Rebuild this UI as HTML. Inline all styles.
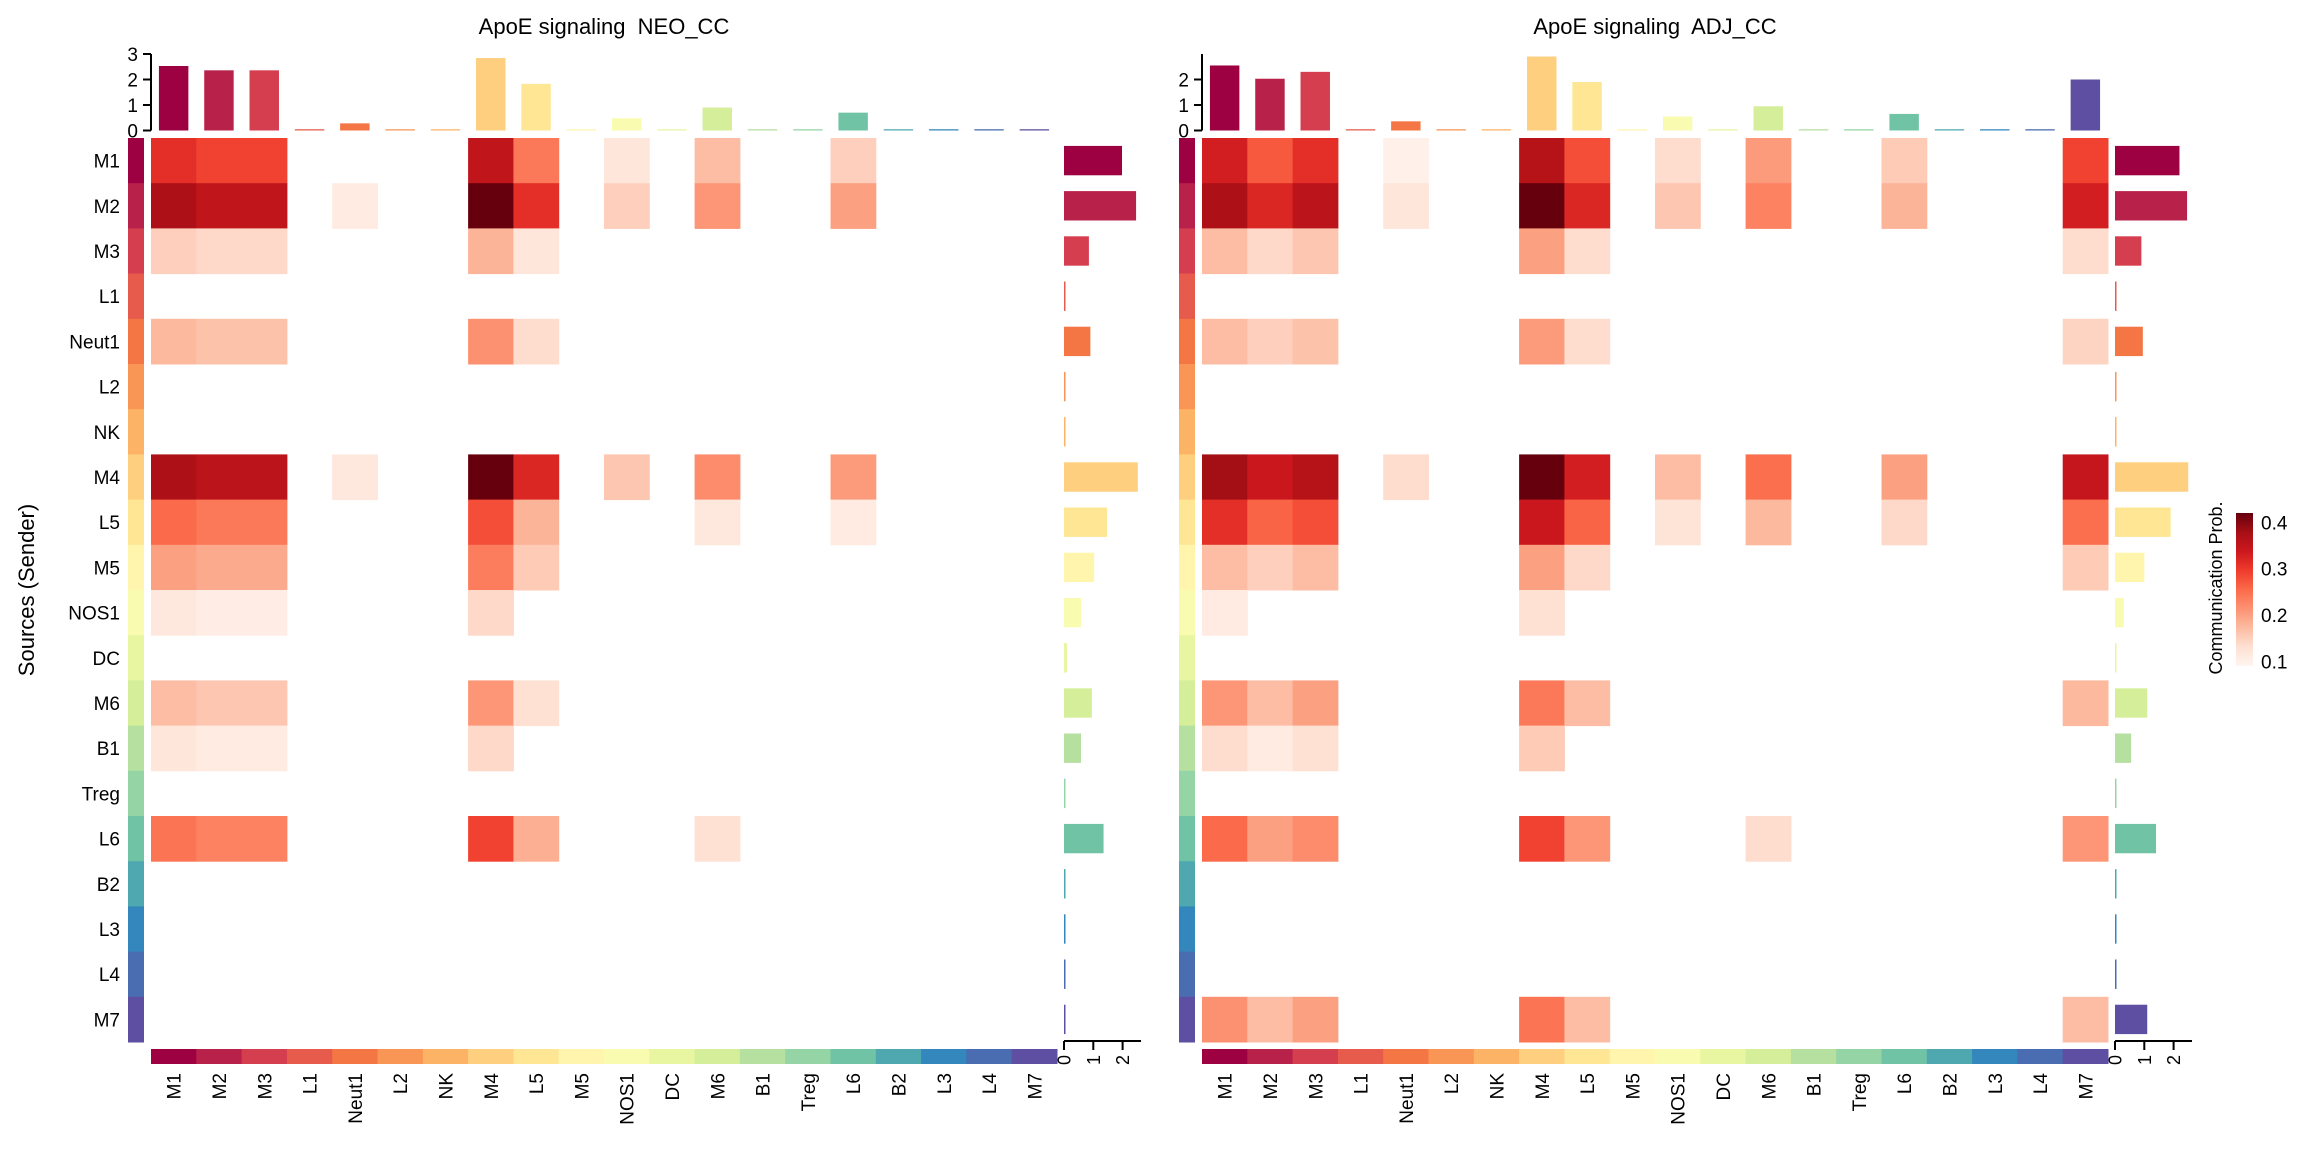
<!DOCTYPE html>
<html><head><meta charset="utf-8"><style>
html,body{margin:0;padding:0;background:#fff;}
svg text{font-family:"Liberation Sans",Arial,sans-serif;fill:#000;white-space:pre;}
</style></head><body>
<svg id="chart" width="2304" height="1152" viewBox="0 0 2304 1152" xmlns="http://www.w3.org/2000/svg">
<text transform="translate(34,590) rotate(-90)" text-anchor="middle" font-size="22">Sources (Sender)</text>
<g id="legend"></g>
</svg>
<script>
const cellTypes = ["M1","M2","M3","L1","Neut1","L2","NK","M4","L5","M5","NOS1","DC","M6","B1","Treg","L6","B2","L3","L4","M7"];
const typeColors = ["#9e0142","#b8214a","#d53e4f","#e65b4b","#f47645","#f99656","#fdb365","#fdcf7e","#fee695","#fff5ad","#f8fbb0","#e9f6a1","#d4ee9a","#b5e0a0","#95d4a4","#70c4a5","#4fa8b0","#3387bc","#4a6cb0","#5e4fa2"];
const panelTitles = ["ApoE signaling  NEO_CC","ApoE signaling  ADJ_CC"];
const legendTicks = [0.1,0.2,0.3,0.4];
const Z = [0,0,0,0,0,0,0,0,0,0,0,0,0,0,0,0,0,0,0,0];
const neoMatrix = [
 [.31,.29,.29,0,0,0,0,.35,.24,0,.12,0,.17,0,0,.15,0,0,0,0],
 [.37,.35,.35,0,.11,0,0,.42,.31,0,.15,0,.21,0,0,.20,0,0,0,0],
 [.15,.14,.14,0,0,0,0,.18,.12,0,0,0,0,0,0,0,0,0,0,0],
 Z,
 [.175,.165,.165,0,0,0,0,.215,.135,0,0,0,0,0,0,0,0,0,0,0],
 Z, Z,
 [.37,.355,.355,0,.115,0,0,.42,.32,0,.16,0,.22,0,0,.205,0,0,0,0],
 [.255,.24,.24,0,0,0,0,.28,.18,0,0,0,.115,0,0,.11,0,0,0,0],
 [.2,.19,.19,0,0,0,0,.235,.155,0,0,0,0,0,0,0,0,0,0,0],
 [.115,.105,.105,0,0,0,0,.14,0,0,0,0,0,0,0,0,0,0,0,0],
 Z,
 [.17,.16,.16,0,0,0,0,.21,.13,0,0,0,0,0,0,0,0,0,0,0],
 [.12,.11,.11,0,0,0,0,.14,0,0,0,0,0,0,0,0,0,0,0,0],
 Z,
 [.245,.23,.23,0,0,0,0,.29,.185,0,0,0,.13,0,0,0,0,0,0,0],
 Z, Z, Z, Z
];
const adjMatrix = [
 [.33,.27,.31,0,.10,0,0,.36,.28,0,.135,0,.205,0,0,.155,0,0,0,.29],
 [.37,.32,.355,0,.12,0,0,.42,.32,0,.16,0,.23,0,0,.18,0,0,0,.33],
 [.17,.14,.16,0,0,0,0,.2,.135,0,0,0,0,0,0,0,0,0,0,.135],
 Z,
 [.17,.15,.165,0,0,0,0,.205,.135,0,0,0,0,0,0,0,0,0,0,.145],
 Z, Z,
 [.38,.34,.36,0,.135,0,0,.42,.33,0,.17,0,.25,0,0,.2,0,0,0,.345],
 [.31,.26,.28,0,0,0,0,.34,.26,0,.125,0,.175,0,0,.14,0,0,0,.25],
 [.17,.15,.17,0,0,0,0,.2,.14,0,0,0,0,0,0,0,0,0,0,.155],
 [.11,0,0,0,0,0,0,.13,0,0,0,0,0,0,0,0,0,0,0,0],
 Z,
 [.21,.17,.2,0,0,0,0,.24,.17,0,0,0,0,0,0,0,0,0,0,.175],
 [.135,.11,.13,0,0,0,0,.155,0,0,0,0,0,0,0,0,0,0,0,0],
 Z,
 [.255,.2,.22,0,0,0,0,.29,.21,0,0,0,.135,0,0,0,0,0,0,.21],
 Z, Z, Z,
 [.215,.17,.2,0,0,0,0,.245,.17,0,0,0,0,0,0,0,0,0,0,.17]
];
const neoTopBars = [2.53,2.36,2.36,0.05,0.28,0.05,0.05,2.84,1.83,0.05,0.48,0.05,0.9,0.05,0.05,0.7,0.05,0.05,0.05,0.05];
const adjTopBars = [2.55,2.03,2.3,0.05,0.36,0.05,0.05,2.9,1.9,0.05,0.55,0.05,0.95,0.05,0.05,0.65,0.05,0.05,0.05,2.0];
const neoSideBars = [1.98,2.46,0.85,0.05,0.9,0.05,0.05,2.52,1.47,1.03,0.58,0.1,0.95,0.58,0.05,1.35,0.05,0.05,0.05,0.05];
const adjSideBars = [2.2,2.46,0.9,0.05,0.95,0.05,0.05,2.5,1.9,1.0,0.3,0.05,1.1,0.55,0.05,1.4,0.05,0.05,0.05,1.1];
const neoTopTicks = [0,1,2,3];
const adjTopTicks = [0,1,2];
const sideTicks = [0,1,2];

const NS = "http://www.w3.org/2000/svg";
const svg = document.getElementById('chart');
function mk(tag, attrs, parent){ const e=document.createElementNS(NS,tag); for(const k in attrs) e.setAttribute(k,attrs[k]); (parent||svg).appendChild(e); return e; }
const reds = ["#fff5f0","#fee0d2","#fcbba1","#fc9272","#fb6a4a","#ef3b2c","#cb181d","#a50f15","#67000d"];
const vMin=0.09, vMax=0.42;
function hex(c){return [parseInt(c.substr(1,2),16),parseInt(c.substr(3,2),16),parseInt(c.substr(5,2),16)];}
function colorScale(v){ let t=(v-vMin)/(vMax-vMin); t=Math.max(0,Math.min(1,t)); const p=t*(reds.length-1); const i=Math.min(reds.length-2,Math.floor(p)); const f=p-i; const a=hex(reds[i]), b=hex(reds[i+1]); return "rgb("+a.map((x,k)=>Math.round(x+(b[k]-x)*f)).join(",")+")"; }

const cellW=45.3, cellH=45.2, hmTop=138, topBase=130.5, topUnit=25.5, sideUnit=29.3;
const panels=[
 {x0:151, title:panelTitles[0], m:neoMatrix, tb:neoTopBars, sb:neoSideBars, tt:neoTopTicks, axTop:54, labels:true, name:'neo-cc'},
 {x0:1202, title:panelTitles[1], m:adjMatrix, tb:adjTopBars, sb:adjSideBars, tt:adjTopTicks, axTop:54, labels:false, name:'adj-cc'}
];
panels.forEach(P=>{
 const g=mk('g',{});
 
 
 const xCol=i=>P.x0+i*cellW, yRow=j=>hmTop+j*cellH;
 const hmRight=xCol(cellTypes.length);
 const t=mk('text',{x:P.x0+(hmRight-P.x0)/2,y:34,'text-anchor':'middle','font-size':22},g); t.textContent=P.title;
 
 
 P.m.forEach((row,j)=>row.forEach((v,i)=>{ if(v>0){ const r=mk('rect',{x:xCol(i),y:yRow(j),width:cellW+0.5,height:cellH+0.5,fill:colorScale(v)},g);
   
    }}));
 cellTypes.forEach((c,j)=>{
   const r=mk('rect',{x:P.x0-23,y:yRow(j),width:16,height:cellH+0.5,fill:typeColors[j]},g);
   
   
   if(P.labels){ const l=mk('text',{x:120,y:yRow(j)+cellH/2+7,'text-anchor':'end','font-size':19},g); l.textContent=c;
     
      }
 });
 cellTypes.forEach((c,i)=>{
   const r=mk('rect',{x:xCol(i),y:1049,width:cellW+0.5,height:15,fill:typeColors[i]},g);
   
   
   const cx=xCol(i)+cellW/2+7;
   const l=mk('text',{x:0,y:0,'text-anchor':'end','font-size':19,transform:`translate(${cx},1073) rotate(-90)`},g); l.textContent=c;
   
   
 });
 const yTop=v=>topBase-v*topUnit;
 P.tb.forEach((v,i)=>{ const bw=cellW*0.65; const r=mk('rect',{x:xCol(i)+(cellW-bw)/2,y:yTop(v),width:bw,height:topBase-yTop(v),fill:typeColors[i]},g);
   
    });
 const ax=P.x0;
 const al=mk('line',{x1:ax,x2:ax,y1:P.axTop,y2:topBase,stroke:'#000','stroke-width':2},g);
 
 
 P.tt.forEach(tv=>{ mk('line',{x1:ax-8,x2:ax,y1:yTop(tv),y2:yTop(tv),stroke:'#000','stroke-width':2},g);
   const l=mk('text',{x:ax-13,y:yTop(tv)+7,'text-anchor':'end','font-size':19},g); l.textContent=tv;
   
    });
 const sx0=hmRight+7; const xSide=v=>sx0+v*sideUnit;
 P.sb.forEach((v,j)=>{ const bh=cellH*0.65; const r=mk('rect',{x:sx0,y:yRow(j)+(cellH-bh)/2,width:Math.max(1.5,xSide(v)-sx0),height:bh,fill:typeColors[j]},g);
   
    });
 const sl=mk('line',{x1:sx0,x2:sx0+77,y1:1041,y2:1041,stroke:'#000','stroke-width':2},g);
 
 
 sideTicks.forEach(tv=>{ mk('line',{x1:xSide(tv),x2:xSide(tv),y1:1041,y2:1050,stroke:'#000','stroke-width':2},g);
   const l=mk('text',{x:0,y:0,'text-anchor':'end','font-size':18,transform:`translate(${xSide(tv)+6.5},1055) rotate(-90)`},g); l.textContent=tv;
   
    });
});
const lg=document.getElementById('legend');
const defs=mk('defs',{});
const grad=mk('linearGradient',{id:'redsGrad',x1:0,y1:1,x2:0,y2:0},defs);
const lTop=513, lBot=666, lMaxV=0.42, lMinV=0.09;
reds.forEach((c,i)=>mk('stop',{offset:(i/(reds.length-1)),'stop-color':c},grad));
const yLeg=v=>lBot-(v-lMinV)/(lMaxV-lMinV)*(lBot-lTop);
mk('rect',{x:2236,y:lTop,width:17,height:lBot-lTop,fill:'url(#redsGrad)'},lg);
legendTicks.forEach(v=>{ const l=mk('text',{x:2261,y:yLeg(v)+7,'font-size':19},lg); l.textContent=v.toFixed(1);
  
   });
const lt=mk('text',{x:0,y:0,'text-anchor':'middle','font-size':18,transform:'translate(2222,588) rotate(-90)'},lg); lt.textContent='Communication Prob.';


</script>
</body></html>
